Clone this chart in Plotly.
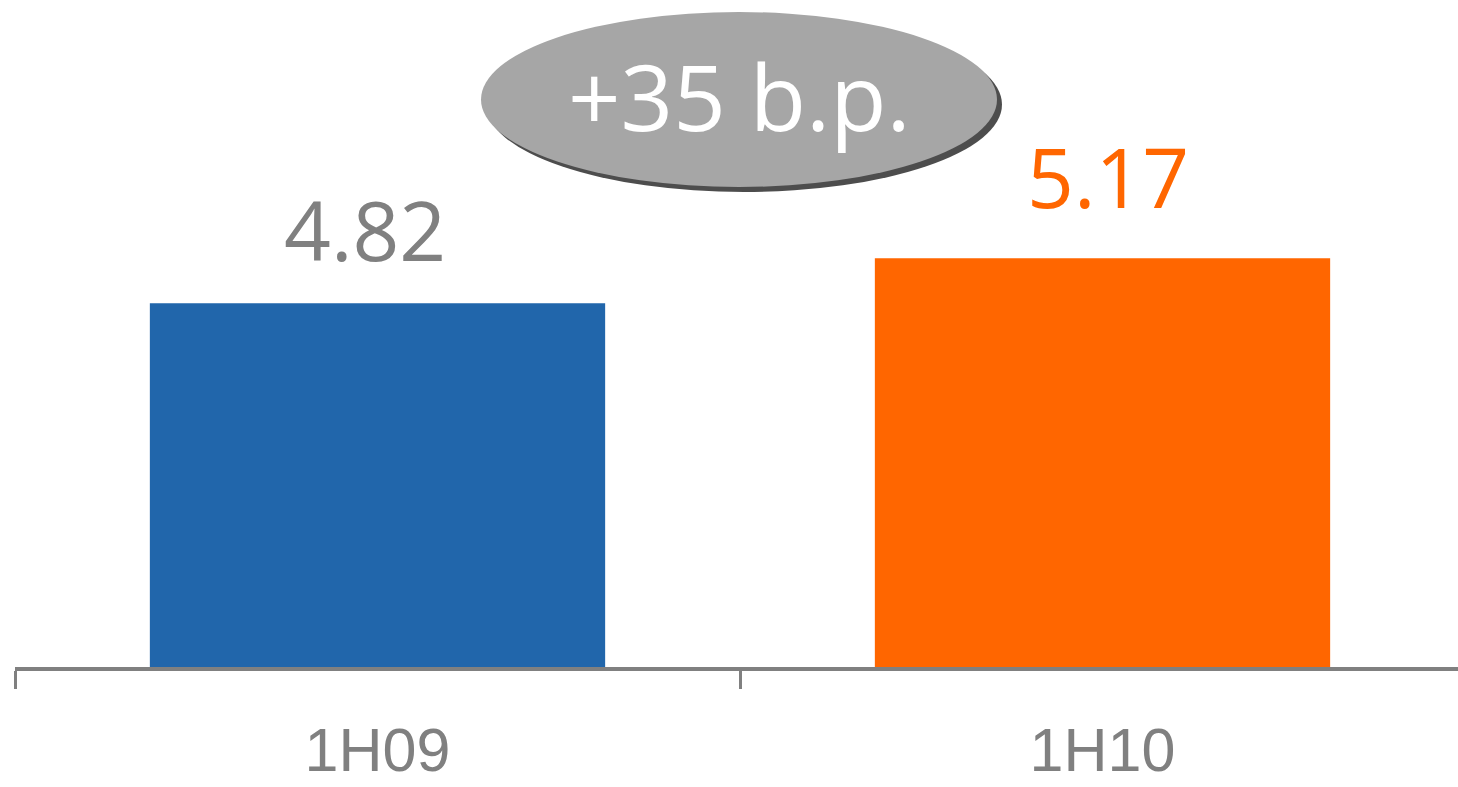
import plotly.graph_objects as go

categories = ["1H09", "1H10"]
values = [4.82, 5.17]
bar_colors = ["#2166AB", "#FF6600"]
label_colors = ["#808080", "#FF6600"]
label_xshift = [-13, 5]
label_yshift = [74, 82]

delta_bp = round((values[1] - values[0]) * 100)
delta_text = f"+{delta_bp} b.p."

W, H = 1458, 787
ML, MR, MT, MB = 15, 0, 0, 120
pw, ph = W - ML - MR, H - MT - MB

def px_x(p):
    return (p - ML) / pw

def px_y(p):
    return (H - MB - p) / ph

fig = go.Figure()
fig.add_trace(go.Bar(
    x=categories, y=values, marker=dict(color=bar_colors, line=dict(width=0)),
    width=0.628, hoverinfo="skip",
))

for c, v, col, xs, ys in zip(categories, values, label_colors, label_xshift, label_yshift):
    fig.add_annotation(
        x=c, y=v, xref="x", yref="y", text=f"{v:.2f}", showarrow=False,
        yanchor="middle", xanchor="center", xshift=xs, yshift=ys,
        font=dict(family="Open Sans", size=82, color=col),
    )

# ellipse shadow
fig.add_shape(type="circle", xref="paper", yref="paper",
              x0=px_x(486), x1=px_x(1002), y0=px_y(192), y1=px_y(17),
              fillcolor="#4D4D4D", line=dict(width=0), layer="above")
fig.add_shape(type="circle", xref="paper", yref="paper",
              x0=px_x(481), x1=px_x(997), y0=px_y(187), y1=px_y(12),
              fillcolor="#A6A6A6", line=dict(width=0), layer="above")
fig.add_annotation(
    x=px_x(739), y=px_y(96), xref="paper", yref="paper", text=delta_text,
    showarrow=False, xanchor="center", yanchor="middle",
    font=dict(family="Open Sans", size=92, color="white"),
)

fig.update_layout(
    width=W, height=H,
    margin=dict(l=ML, r=MR, t=MT, b=MB, pad=0, autoexpand=False),
    paper_bgcolor="white", plot_bgcolor="white",
    showlegend=False,
    xaxis=dict(
        type="category", range=[-0.5, -0.5 + pw / 725.0],
        automargin=False,
        showline=True, linecolor="#808080", linewidth=4,
        ticks="outside", tickson="boundaries", ticklen=18, tickwidth=3,
        tickcolor="#808080", showgrid=False, zeroline=False,
        ticklabelstandoff=27,
        tickfont=dict(family="Liberation Sans", size=61, color="#808080"),
    ),
    yaxis=dict(range=[2, 2 + ph / 128.95], visible=False, showgrid=False, zeroline=False),
)

fig.write_html("out.html")
